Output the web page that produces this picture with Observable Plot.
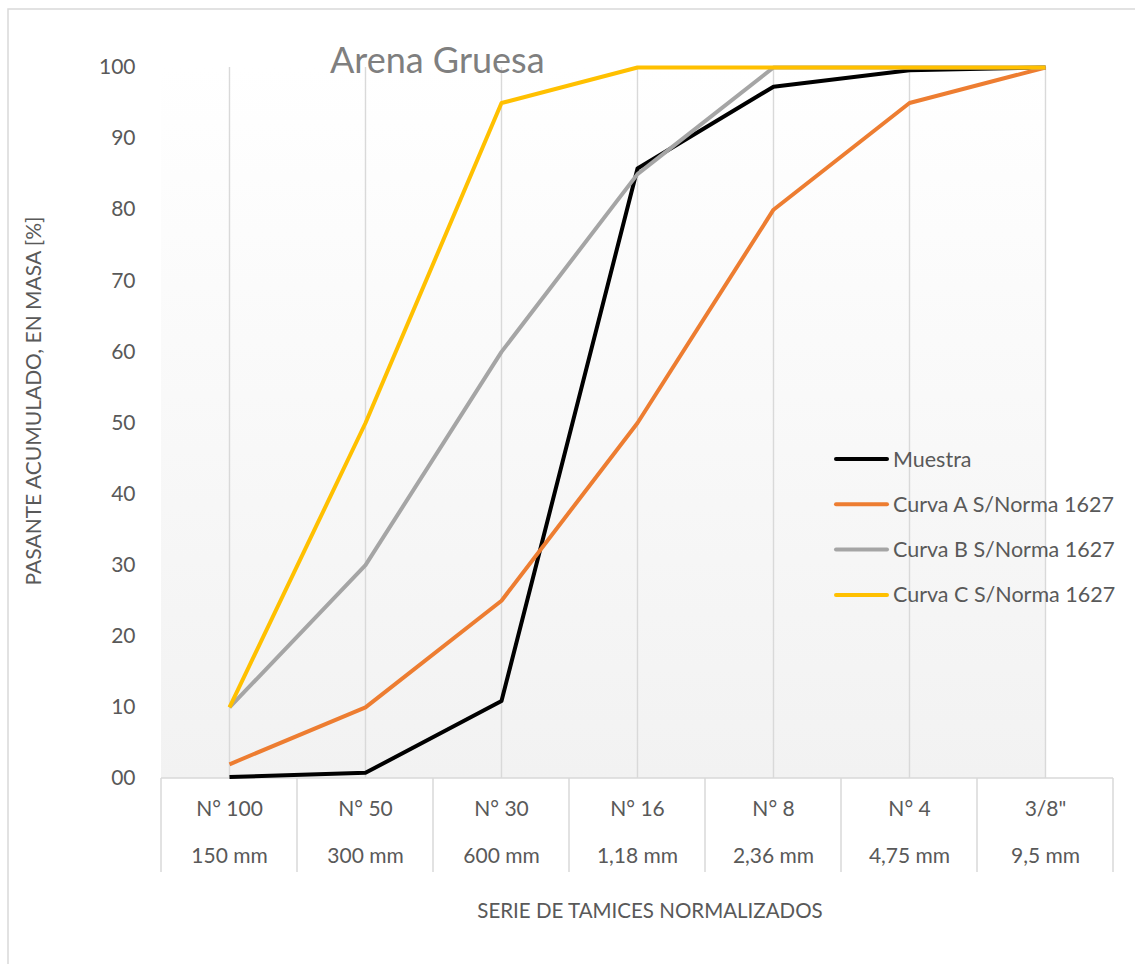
<!DOCTYPE html>
<html><head><meta charset="utf-8">
<script src="https://cdn.jsdelivr.net/npm/d3@7"></script>
<script src="https://cdn.jsdelivr.net/npm/@observablehq/plot@0.6"></script>
<style>body{margin:0;background:#fff;} svg{display:block}</style>
</head><body><div id="chart"></div>
<script>
const sieveNames = ["N° 100", "N° 50", "N° 30", "N° 16", "N° 8", "N° 4", "3/8\""];
const sieveSizes = ["150 mm", "300 mm", "600 mm", "1,18 mm", "2,36 mm", "4,75 mm", "9,5 mm"];
const muestra = [0.2, 0.8, 10.9, 85.8, 97.3, 99.6, 100];
const curvaA = [2, 10, 25, 50, 80, 95, 100];
const curvaB = [10, 30, 60, 85, 100, 100, 100];
const curvaC = [10, 50, 95, 100, 100, 100, 100];
const seriesNames = ["Muestra", "Curva A S/Norma 1627", "Curva B S/Norma 1627", "Curva C S/Norma 1627"];
const seriesColors = ["#000000", "#ED7D31", "#A5A5A5", "#FFC000"];
const yTicks = [0, 10, 20, 30, 40, 50, 60, 70, 80, 90, 100];
const chartTitle = "Arena Gruesa";
const yTitle = "PASANTE ACUMULADO, EN MASA [%]";
const xTitle = "SERIE DE TAMICES NORMALIZADOS";

const rows = [];
[muestra, curvaA, curvaB, curvaC].forEach((vals, s) =>
  vals.forEach((v, i) => rows.push({series: seriesNames[s], sieve: sieveNames[i], value: v})));

const FONT = "Lato, 'Open Sans', sans-serif";
const GRID = "#d9d9d9";

function backdrop(index, scales) {
  const x = scales.x, y = scales.y;
  const step = x(sieveNames[1]) - x(sieveNames[0]);
  const left = x(sieveNames[0]);
  const right = x(sieveNames[sieveNames.length - 1]) + step;
  const lastCenter = right - step / 2;
  const g = d3.create("svg:g");
  const grad = g.append("defs").append("linearGradient")
    .attr("id", "plotGrad").attr("x1", 0).attr("y1", 0).attr("x2", 0).attr("y2", 1);
  grad.append("stop").attr("offset", "0%").attr("stop-color", "#ffffff");
  grad.append("stop").attr("offset", "100%").attr("stop-color", "#f2f2f2");
  g.append("rect").attr("x", left).attr("y", y(100))
    .attr("width", lastCenter - left).attr("height", y(0) - y(100))
    .attr("fill", "url(#plotGrad)");
  g.append("line").attr("x1", left).attr("x2", right).attr("y1", y(0)).attr("y2", y(0))
    .attr("stroke", GRID).attr("stroke-width", 1.5);
  const edges = sieveNames.map(c => x(c)).concat([right]);
  edges.forEach(e => g.append("line").attr("x1", e).attr("x2", e)
    .attr("y1", y(0)).attr("y2", y(0) + 94).attr("stroke", GRID).attr("stroke-width", 1.5));
  return g.node();
}

const chart = Plot.plot({
  width: 1135,
  height: 964,
  marginLeft: 158,
  marginRight: 19,
  marginTop: 67,
  marginBottom: 186,
  style: {fontFamily: FONT, fontSize: "21px", color: "#595959", background: "white", overflow: "visible"},
  x: {type: "band", domain: sieveNames, padding: 0, axis: null},
  y: {domain: [0, 100], axis: null},
  color: {domain: seriesNames, range: seriesColors},
  marks: [
    backdrop,
    Plot.ruleX(sieveNames, {x: d => d, y1: 0, y2: 100, stroke: GRID, strokeWidth: 1.4}),
    Plot.line(rows, {x: "sieve", y: "value", z: "series", stroke: "series",
      strokeWidth: 4, strokeLinejoin: "round", strokeLinecap: "butt"}),
    Plot.axisY({ticks: yTicks, tickFormat: d => d === 0 ? "00" : String(d),
      tickSize: 0, tickPadding: 23, fontSize: 21, label: null}),
    Plot.axisX({tickSize: 0, tickPadding: 23, fontSize: 21, label: null}),
    Plot.axisX({tickSize: 0, tickPadding: 70, fontSize: 21, label: null,
      tickFormat: d => sieveSizes[sieveNames.indexOf(d)]})
  ]
});

const svg = d3.select(chart);
svg.insert("rect", ":first-child").attr("x", 8).attr("y", 9).attr("width", 1300).attr("height", 1100)
  .attr("fill", "none").attr("stroke", GRID).attr("stroke-width", 1.5);

svg.append("text").attr("x", 330).attr("y", 73).attr("text-anchor", "start").text(chartTitle)
  .attr("font-family", FONT).attr("font-size", 36).attr("fill", "#7f7f7f");

svg.append("text").attr("transform", "translate(41,401) rotate(-90)")
  .attr("text-anchor", "middle").attr("font-family", FONT).attr("font-size", 21)
  .attr("fill", "#595959").text(yTitle);

svg.append("text").attr("x", 650).attr("y", 918).attr("text-anchor", "middle")
  .attr("font-family", FONT).attr("font-size", 20.5).attr("fill", "#595959").text(xTitle);

const leg = svg.append("g");
seriesNames.forEach((name, i) => {
  const cy = 459 + i * 45.3;
  leg.append("line").attr("x1", 836).attr("x2", 887).attr("y1", cy).attr("y2", cy)
    .attr("stroke", seriesColors[i]).attr("stroke-width", 4).attr("stroke-linecap", "round");
  leg.append("text").attr("x", 893).attr("y", cy + 7.5).attr("text-anchor", "start").text(name)
    .attr("font-family", FONT).attr("font-size", 21.5).attr("fill", "#595959");
});

document.getElementById("chart").appendChild(chart);
</script>
</body></html>
